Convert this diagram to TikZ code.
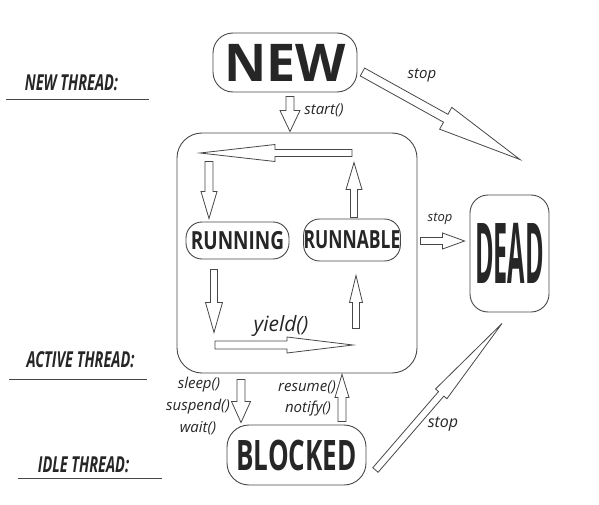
\documentclass[tikz,border=0pt]{standalone}
\usepackage{fontspec}
\usepackage{graphicx}
\setmainfont{Open Sans}
\usetikzlibrary{calc}
\definecolor{ink}{HTML}{262626}
\definecolor{edge}{HTML}{474747}
\newcommand{\narrow}[2]{\scalebox{#1}[1]{#2}}
\tikzset{
 state/.style={draw=edge, line width=0.9pt, text=ink, inner sep=0pt},
 thread/.style={text=ink, inner sep=0pt, font=\bfseries\itshape\fontsize{22}{22}\selectfont},
 note/.style={text=ink, inner sep=0pt, font=\itshape\fontsize{15}{15}\selectfont},
 hollow/.style={draw=edge, fill=white, line width=0.8pt},
 fat/.style n args={3}{to path={
   let \p1=(\tikztostart), \p2=(\tikztotarget),
       \n1={atan2(\y2-\y1,\x2-\x1)}, \n2={veclen(\x2-\x1,\y2-\y1)} in
   {[shift={(\p1)},rotate=\n1]
    (0pt,#1pt) -- (\n2-#3pt,#1pt) -- (\n2-#3pt,#2pt) -- (\n2+0pt,0pt)
    -- (\n2-#3pt,-#2pt) -- (\n2-#3pt,-#1pt) -- (0pt,-#1pt) -- cycle}}}
}
\begin{document}
\begin{tikzpicture}[x=1pt,y=-1pt]
\useasboundingbox (0,0) rectangle (599,505);

% states
\node[state, minimum width=144, minimum height=59, rounded corners=20,
  font=\bfseries\fontsize{52}{52}\selectfont] (new) at (285,62.5) {NEW};
\node[state, minimum width=240, minimum height=240, rounded corners=25] (box) at (297,253) {};
\node[state, minimum width=103, minimum height=37, rounded corners=16,
  font=\bfseries\fontsize{25}{25}\selectfont] (running) at (237.5,240.5) {\narrow{0.76}{RUNNING}};
\node[state, minimum width=96, minimum height=42, rounded corners=16,
  font=\bfseries\fontsize{25}{25}\selectfont] (runnable) at (352,240) {\narrow{0.7}{RUNNABLE}};
\node[state, minimum width=79, minimum height=117, rounded corners=18,
  font=\bfseries\fontsize{84}{84}\selectfont] (dead) at (509.5,253.5) {\narrow{0.3}{DEAD}};
\node[state, minimum width=139, minimum height=60, rounded corners=22,
  font=\bfseries\fontsize{42}{42}\selectfont] (blocked) at (296.5,455) {\narrow{0.62}{BLOCKED}};

% thread labels
\node[thread] (lnew) at (71.5,83) {\narrow{0.66}{NEW THREAD:}};
\node[thread] (lactive) at (80.5,360) {\narrow{0.66}{ACTIVE THREAD:}};
\node[thread] (lidle) at (83.5,465) {\narrow{0.66}{IDLE THREAD:}};
\draw[edge, line width=0.9pt] (6,99) -- (149,99);
\draw[edge, line width=0.9pt] (9,379) -- (147,379);
\draw[edge, line width=0.9pt] (18,478) -- (162,478);

% cycle inside the active box
\coordinate (cyctop) at (352,153);
\coordinate (cycleft) at (200,153);
\coordinate (yieldA) at (215,345);
\coordinate (yieldB) at (353,345);

\draw[hollow] ([shift={(5,4)}]new.south) to[fat={4}{10}{21}] ([shift={(-7,-1)}]box.north);
\draw[hollow] ([shift={(5,9.5)}]new.east) to[fat={4.5}{12.5}{85}] ([shift={(10.5,-35)}]dead.north);
\draw[hollow] (cyctop) to[fat={3.5}{8.5}{75}] (cycleft);
\draw[hollow] ([shift={(-28.5,-60)}]running.north) to[fat={4}{8}{27}] ([shift={(-28.5,-3)}]running.north);
\draw[hollow] ([shift={(2,-1)}]runnable.north) to[fat={3.5}{8}{27}] ([shift={(2,-56)}]runnable.north);
\draw[hollow] ([shift={(-23.5,10)}]running.south) to[fat={3.5}{8.5}{30}] ([shift={(-23.5,73)}]running.south);
\draw[hollow] (yieldA) to[fat={4}{8}{66}] (yieldB);
\draw[hollow] ([shift={(4,67)}]runnable.south) to[fat={3.5}{6.5}{27}] ([shift={(4,14)}]runnable.south);
\draw[hollow] ([shift={(3,-12)}]box.east) to[fat={3.5}{8}{22}] ([shift={(-5,-12.5)}]dead.west);
\draw[hollow] ([shift={(-56,6)}]box.south) to[fat={4}{9.5}{21}] ([shift={(-55.5,-2)}]blocked.north);
\draw[hollow] ([shift={(45.5,-3)}]blocked.north) to[fat={4}{7}{23}] ([shift={(45,1)}]box.south);
\draw[hollow] ([shift={(9,15)}]blocked.east) to[fat={3.5}{7.5}{93}] ([shift={(-7.5,11)}]dead.south);

% arrow labels
\node[note] (tstart) at (324,110) {start()};
\node[note] (tstop1) at (422,75) {stop};
\node[note, font=\itshape\fontsize{13}{13}\selectfont] (tstop2) at (440,219) {stop};
\node[note, font=\itshape\fontsize{21}{21}\selectfont] (tyield) at (281,326) {yield()};
\node[note] (tsleep) at (199,385) {sleep()};
\node[note] (tsuspend) at (198,407) {suspend()};
\node[note] (twait) at (198,428) {wait()};
\node[note] (tresume) at (307,387) {resume()};
\node[note] (tnotify) at (308,409) {notify()};
\node[note, font=\itshape\fontsize{16}{16}\selectfont] (tstop3) at (443,424) {stop};
\end{tikzpicture}
\end{document}
